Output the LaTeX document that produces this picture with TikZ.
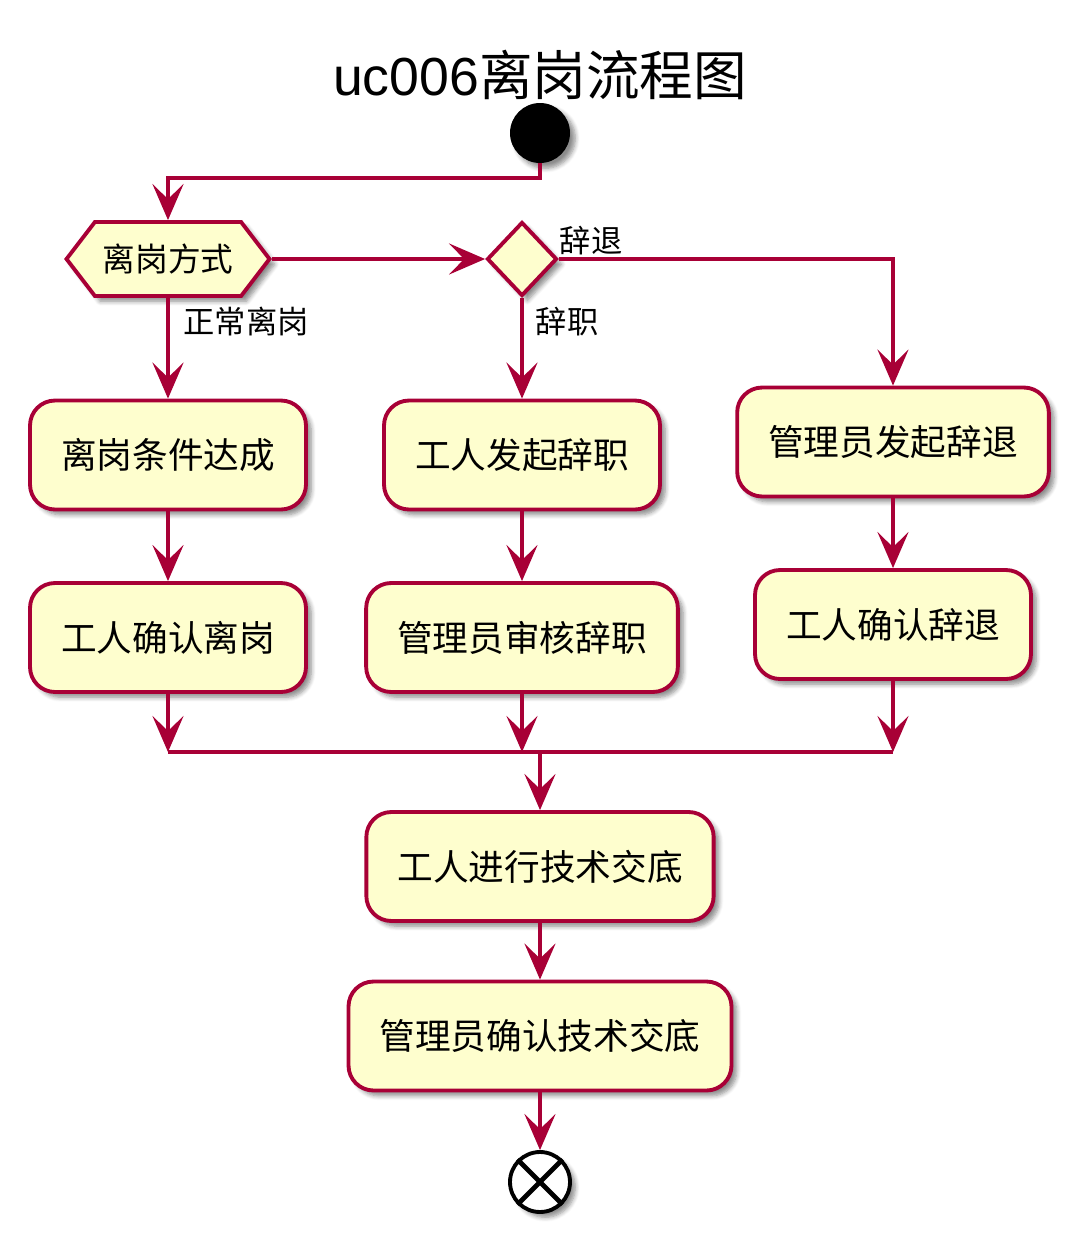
\documentclass[tikz,border=0pt]{standalone}
\usepackage{fontspec}
\newfontfamily\cjk{Noto Sans CJK SC}
\newfontfamily\titlefont{Liberation Sans}
\usetikzlibrary{arrows.meta,shapes.geometric,shapes.symbols,shadows.blur}
\definecolor{umlred}{HTML}{A80036}
\definecolor{umlfill}{HTML}{FEFECE}
\tikzset{
  shade/.style={blur shadow={shadow xshift=3pt,shadow yshift=-3pt,shadow blur steps=6,shadow blur radius=2.5pt,shadow opacity=45}},
  act/.style={draw=umlred,fill=umlfill,line width=2.2pt,rectangle,rounded corners=0.5cm,minimum height=2.18cm,inner xsep=0.62cm,font=\cjk\fontsize{20.3}{22}\selectfont,shade},
  choice/.style={draw=umlred,fill=umlfill,line width=2.2pt,shade},
  lbl/.style={font=\cjk\fontsize{17.8}{20}\selectfont,inner sep=0pt},
  flow/.style={draw=umlred,line width=2.2pt}
}
\begin{document}
\begin{tikzpicture}[x=0.02cm,y=-0.02cm,>={Stealth[length=0.72cm,width=0.62cm,inset=0.3cm]}]
\useasboundingbox (0,0) rectangle (1080,1241);
% title
\node (title) at (540,75) {\titlefont\fontsize{30.5}{34}\selectfont uc006\cjk 离岗流程图};
% start and decision
\node[circle,fill=black,minimum size=1.2cm,inner sep=0pt,shade] (start) at (540,133) {};
\node[choice,signal,signal to=east and west,signal pointer angle=105,minimum width=4.06cm,minimum height=1.48cm,inner sep=0pt,font=\cjk\fontsize{18.6}{20}\selectfont] (way) at (168,259) {离岗方式};
\node[choice,diamond,minimum width=1.4cm,minimum height=1.48cm,inner sep=0pt] (quit) at (522,259) {};
% activities
\node[act] (cond) at (168,455) {离岗条件达成};
\node[act] (apply) at (522,455) {工人发起辞职};
\node[act] (fire) at (893,442) {管理员发起辞退};
\node[act] (leave) at (168,637.5) {工人确认离岗};
\node[act] (check) at (522,637.5) {管理员审核辞职};
\node[act] (agree) at (893,624.5) {工人确认辞退};
\node[act] (hand) at (540,866.5) {工人进行技术交底};
\node[act] (confirm) at (540,1036) {管理员确认技术交底};
% end
\node[circle,draw=black,fill=white,line width=2.2pt,minimum size=1.2cm,inner sep=0pt,shade] (stop) at (540,1182) {};
\draw[line width=2.8pt] (stop.45)--(stop.225) (stop.135)--(stop.315);
% labels
\node[lbl] (lnormal) at (246,322) {正常离岗};
\node[lbl] (lquit) at (567,322) {辞职};
\node[lbl] (lfire) at (591,241) {辞退};
% merge points
\coordinate (m1) at (168,752);
\coordinate (m2) at (522,752);
\coordinate (m3) at (893,752);
\coordinate (m0) at (540,752);
% connectors
\draw[flow,->] (start.south) -- ++(0,15) -| (way.north);
\draw[flow,->] (way.east) -- (quit.west);
\draw[flow,->] (quit.east) -| (fire.north);
\draw[flow,->] (way.south) -- (cond.north);
\draw[flow,->] (quit.south) -- (apply.north);
\draw[flow,->] (cond) -- (leave);
\draw[flow,->] (apply) -- (check);
\draw[flow,->] (fire) -- (agree);
\draw[flow,->] (leave) -- (m1);
\draw[flow,->] (check) -- (m2);
\draw[flow,->] (agree) -- (m3);
\draw[flow] (m1) -- (m3);
\draw[flow,->] (m0) -- (hand);
\draw[flow,->] (hand) -- (confirm);
\draw[flow,->] (confirm) -- (stop);
\end{tikzpicture}
\end{document}
